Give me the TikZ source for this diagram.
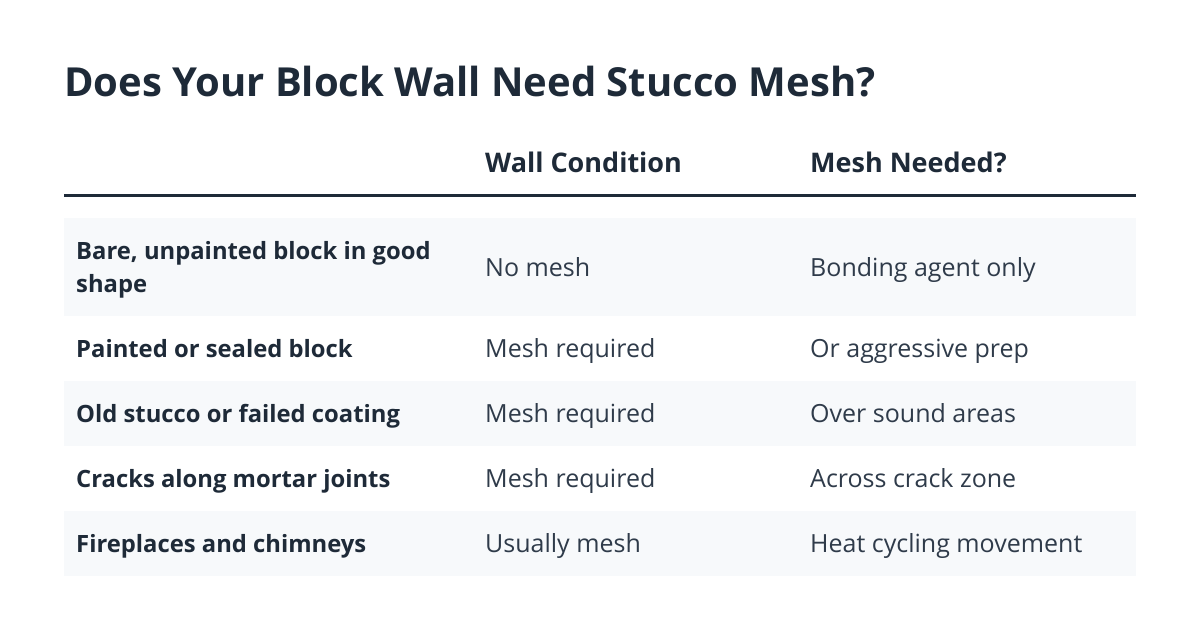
\documentclass[tikz,border=0pt]{standalone}
\usepackage{fontspec}
\setmainfont{Open Sans}
\definecolor{ink}{HTML}{1E2A38}
\definecolor{body}{HTML}{2F3B4A}
\definecolor{rowbg}{HTML}{F7F9FB}
\begin{document}
\begin{tikzpicture}[x=1pt,y=-1pt,
  title/.style={anchor=base west,font=\fontsize{40}{44}\selectfont\bfseries,text=ink,inner sep=0},
  head/.style={anchor=base west,font=\fontsize{27}{30}\selectfont\bfseries,text=ink,inner sep=0},
  lab/.style={anchor=base west,font=\fontsize{23.8}{33}\selectfont\bfseries,text=ink,inner sep=0,align=left},
  cell/.style={anchor=base west,font=\fontsize{25}{28}\selectfont,text=body,inner sep=0}]
\useasboundingbox[fill=white] (0,0) rectangle (1200,632);
\node[title] (t) at (64,96) {Does Your Block Wall Need Stucco Mesh?};
\node[head] (h1) at (485,172) {Wall Condition};
\node[head] (h2) at (810,172) {Mesh Needed?};
\coordinate (la) at (64,195); \coordinate (lb) at (1136,195);
\draw[ink,line width=3pt] (la) -- (lb);
\fill[rowbg] (64,218) rectangle (1136,316);
\fill[rowbg] (64,381) rectangle (1136,446);
\fill[rowbg] (64,511) rectangle (1136,576);
\node[lab] (r1) at (76,259) {Bare, unpainted block in good};
\node[lab] (r1x) at (76,292) {shape};
\node[cell] (r1a) at (485,276) {No mesh};
\node[cell] (r1b) at (810,276) {Bonding agent only};
\node[lab] (r2) at (76,357) {Painted or sealed block};
\node[cell] (r2a) at (485,357) {Mesh required};
\node[cell] (r2b) at (810,357) {Or aggressive prep};
\node[lab] (r3) at (76,422) {Old stucco or failed coating};
\node[cell] (r3a) at (485,422) {Mesh required};
\node[cell] (r3b) at (810,422) {Over sound areas};
\node[lab] (r4) at (76,487) {Cracks along mortar joints};
\node[cell] (r4a) at (485,487) {Mesh required};
\node[cell] (r4b) at (810,487) {Across crack zone};
\node[lab] (r5) at (76,552) {Fireplaces and chimneys};
\node[cell] (r5a) at (485,552) {Usually mesh};
\node[cell] (r5b) at (810,552) {Heat cycling movement};
\end{tikzpicture}
\end{document}
